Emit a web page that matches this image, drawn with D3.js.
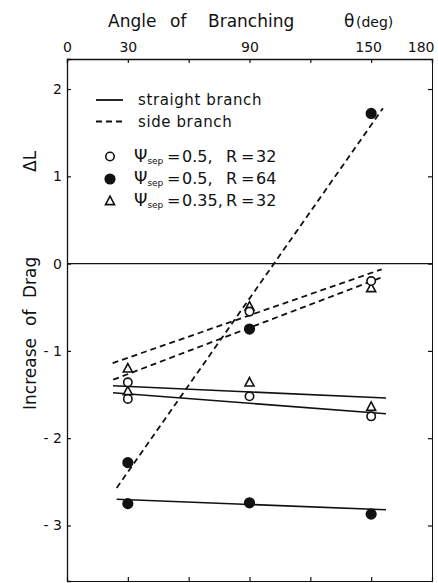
<!DOCTYPE html>
<html><head><meta charset="utf-8">
<script src="https://cdn.jsdelivr.net/npm/d3@7"></script>
<style>
html,body{margin:0;padding:0;background:#fff;}
svg{display:block;font-family:"DejaVu Sans",sans-serif;}
</style></head>
<body>
<svg id="chart" width="438" height="583"></svg>
<script>
// ---- data ----
const angles = [30, 90, 150];
const xTicks = [0, 30, 60, 90, 120, 150, 180];
const xTickLabels = [0, 30, 90, 150, 180];
const yTicks = [-3, -2, -1, 0, 1, 2];

// Psi_sep = 0.5, R = 32 (open circle)
const openSide = [-1.36, -0.55, -0.20];
const openStraight = [-1.55, -1.52, -1.75];
// Psi_sep = 0.5, R = 64 (filled circle)
const filledSide = [-2.28, -0.75, 1.72];
const filledStraight = [-2.75, -2.74, -2.87];
// Psi_sep = 0.35, R = 32 (triangle)
const triSide = [-1.20, -0.49, -0.28];
const triStraight = [-1.46, -1.36, -1.64];

// fitted lines [angle, dL] end points
const fitTriStraight = [[22.7, -1.40], [157.3, -1.54]];
const fitOpenStraight = [[22.7, -1.48], [157.3, -1.72]];
const fitFilledStraight = [[24.5, -2.70], [157.3, -2.82]];
const fitFilledSide = [[24.5, -2.57], [155.8, 1.78]];
const fitTriSide = [[22.5, -1.14], [155.2, -0.065]];
const fitOpenSide = [[22.8, -1.33], [156.0, -0.15]];

// ---- drawing ----
const svg = d3.select("#chart");
const ink = "#111";
const x = d3.scaleLinear().domain([0, 180]).range([67, 432]);
const y = d3.scaleLinear().domain([-3.636, 2.344]).range([581, 59]);

// axes (all ticks inward)
const fmtY = d => d < 0 ? "- " + Math.abs(d) : String(d);
const gTop = svg.append("g").attr("transform", `translate(0,${y.range()[1]})`)
  .call(d3.axisTop(x).tickValues(xTicks).tickSize(-4).tickPadding(7)
    .tickFormat(d => xTickLabels.includes(d) ? d : ""));
const gBottom = svg.append("g").attr("transform", `translate(0,${y.range()[0]})`)
  .call(d3.axisBottom(x).tickValues(xTicks).tickSize(-4).tickFormat(""));
const gLeft = svg.append("g").attr("transform", `translate(${x.range()[0]},0)`)
  .call(d3.axisLeft(y).tickValues(yTicks).tickSize(-4).tickPadding(5).tickFormat(fmtY));
const gRight = svg.append("g").attr("transform", `translate(${x.range()[1]},0)`)
  .call(d3.axisRight(y).tickValues(yTicks).tickSize(-4).tickFormat(""));
[gTop, gBottom, gLeft, gRight].forEach(g => {
  g.select(".domain").attr("stroke", ink).attr("stroke-width", 1.3);
  g.selectAll(".tick line").attr("stroke", ink).attr("stroke-width", 1.2);
  g.selectAll("text").attr("fill", ink).attr("font-size", 14)
    .attr("font-family", "DejaVu Sans, sans-serif");
});
gRight.select(".domain").attr("stroke-width", 1);
gBottom.select(".domain").attr("stroke-width", 1);
// last top label sits inside the frame's right edge
gTop.selectAll(".tick").filter(d => d === 180).select("text")
  .attr("text-anchor", "end").attr("x", 2);
gTop.selectAll(".tick").filter(d => d === 150).select("text").attr("x", -3);

// zero line
svg.append("line").attr("x1", x(0)).attr("x2", x(180)).attr("y1", y(0)).attr("y2", y(0))
  .attr("stroke", ink).attr("stroke-width", 1.2);

// fitted lines
const lineGen = d3.line().x(d => x(d[0])).y(d => y(d[1]));
const solidFits = [fitTriStraight, fitOpenStraight, fitFilledStraight];
const dashFits = [fitFilledSide, fitTriSide, fitOpenSide];
svg.selectAll("path.solid").data(solidFits).join("path").attr("class", "solid")
  .attr("d", lineGen).attr("fill", "none").attr("stroke", ink).attr("stroke-width", 1.6);
svg.selectAll("path.dash").data(dashFits).join("path").attr("class", "dash")
  .attr("d", lineGen).attr("fill", "none").attr("stroke", ink).attr("stroke-width", 1.8)
  .attr("stroke-dasharray", "6,4");

// markers
function circles(vals, filled) {
  svg.append("g").selectAll("circle").data(vals).join("circle")
    .attr("cx", (d, i) => x(angles[i])).attr("cy", d => y(d))
    .attr("r", filled ? 4.8 : 4.2)
    .attr("fill", filled ? ink : "#fff").attr("stroke", ink).attr("stroke-width", 1.6);
}
const triPath = (cx, cy) => `M${cx},${cy - 4.8}L${cx + 4.5},${cy + 3.6}L${cx - 4.5},${cy + 3.6}Z`;
function triangles(vals) {
  svg.append("g").selectAll("path").data(vals).join("path")
    .attr("d", (d, i) => triPath(x(angles[i]), y(d)))
    .attr("fill", "#fff").attr("stroke", ink).attr("stroke-width", 1.6);
}
triangles(triStraight);
circles(openStraight, false);
triangles(triSide);
circles(openSide, false);
circles(filledSide, true);
circles(filledStraight, true);

// legend
svg.append("line").attr("x1", 96).attr("x2", 123).attr("y1", 100).attr("y2", 100)
  .attr("stroke", ink).attr("stroke-width", 1.8);
svg.append("line").attr("x1", 96).attr("x2", 124).attr("y1", 121.5).attr("y2", 121.5)
  .attr("stroke", ink).attr("stroke-width", 1.8).attr("stroke-dasharray", "6,4");
const lt = (t, yy) => svg.append("text").attr("x", 138).attr("y", yy).attr("font-size", 15)
  .attr("fill", ink).attr("letter-spacing", 0.6).text(t);
lt("straight branch", 105);
lt("side branch", 126.5);

svg.append("circle").attr("cx", 110).attr("cy", 156.5).attr("r", 4.2).attr("fill", "#fff")
  .attr("stroke", ink).attr("stroke-width", 1.6);
svg.append("circle").attr("cx", 110).attr("cy", 179).attr("r", 4.8).attr("fill", ink)
  .attr("stroke", ink).attr("stroke-width", 1.6);
svg.append("path").attr("d", triPath(110, 201)).attr("fill", "#fff")
  .attr("stroke", ink).attr("stroke-width", 1.6);

const legendRows = [["0.5,", "32", 161.5], ["0.5,", "64", 184], ["0.35,", "32", 206]];
legendRows.forEach(([psi, r, yy]) => {
  const t = svg.append("text").attr("y", yy).attr("fill", ink).attr("font-size", 16);
  t.append("tspan").attr("x", 134).attr("font-size", 17).text("Ψ");
  t.append("tspan").attr("font-size", 9).attr("dy", 2).text("sep");
  t.append("tspan").attr("x", 167).attr("dy", -2).text("=");
  t.append("tspan").attr("x", 182).text(psi);
  t.append("tspan").attr("x", 226).text("R");
  t.append("tspan").attr("x", 241).text("=");
  t.append("tspan").attr("x", 256).text(r);
});

// top title
const title = svg.append("text").attr("y", 27).attr("fill", ink).attr("font-size", 17);
title.append("tspan").attr("x", 108).text("Angle");
title.append("tspan").attr("x", 170).text("of");
title.append("tspan").attr("x", 208).text("Branching");
title.append("tspan").attr("x", 344).text("θ");
title.append("tspan").attr("x", 356).attr("font-size", 14).text("(deg)");

// y label
const yl = svg.append("text").attr("transform", "translate(36,0) rotate(-90)")
  .attr("fill", ink).attr("font-size", 17);
yl.append("tspan").attr("x", -410).text("Increase");
yl.append("tspan").attr("x", -326).text("of");
yl.append("tspan").attr("x", -298).text("Drag");
yl.append("tspan").attr("x", -172).text("ΔL");
</script>
</body></html>
